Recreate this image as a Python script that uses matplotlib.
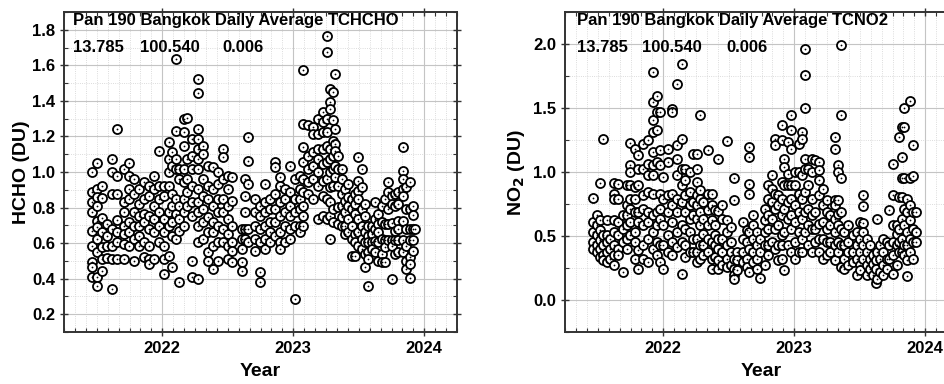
import numpy as np
import matplotlib.pyplot as plt
from matplotlib.ticker import MultipleLocator, FixedLocator

plt.rcParams.update({
    "font.family": ["Liberation Sans", "DejaVu Sans"],
    "font.weight": "bold",
    "axes.labelweight": "bold",
    "font.size": 12,
})

# HCHO columns: decimal-year positions and the daily values read at each
hcho_t = [2021.466, 2021.504, 2021.543, 2021.581, 2021.619, 2021.657, 2021.708, 2021.746,
          2021.784, 2021.823, 2021.861, 2021.899, 2021.937, 2021.975, 2022.013, 2022.052,
          2022.077, 2022.102, 2022.128, 2022.166, 2022.191, 2022.230,
          2022.275, 2022.314, 2022.352, 2022.390, 2022.428, 2022.466, 2022.504, 2022.535,
          2022.606, 2022.632, 2022.657, 2022.708, 2022.746, 2022.784, 2022.823, 2022.861,
          2022.899, 2022.937, 2022.975, 2023.013, 2023.052, 2023.077, 2023.115, 2023.153,
          2023.191, 2023.230,
          2023.255, 2023.280, 2023.306, 2023.318, 2023.344, 2023.369, 2023.395, 2023.420,
          2023.446, 2023.471, 2023.496, 2023.522, 2023.547, 2023.573, 2023.598, 2023.624,
          2023.649, 2023.675, 2023.700, 2023.720, 2023.751, 2023.776, 2023.802, 2023.835,
          2023.860, 2023.891, 2023.916, 2023.929]
hcho_v = [
    [1.0, 0.886, 0.83, 0.773, 0.67, 0.585, 0.495, 0.463, 0.41],
    [1.05, 0.905, 0.858, 0.81, 0.726, 0.69, 0.623, 0.552, 0.407, 0.36],
    [0.923, 0.854, 0.74, 0.66, 0.576, 0.51, 0.445],
    [0.707, 0.64, 0.585, 0.514],
    [1.074, 1.0, 0.876, 0.68, 0.585, 0.51, 0.341],
    [1.243, 0.976, 0.876, 0.73, 0.66, 0.604, 0.51],
    [1.017, 0.83, 0.773, 0.698, 0.651, 0.595, 0.51],
    [1.05, 0.98, 0.905, 0.848, 0.717, 0.66, 0.585],
    [0.961, 0.876, 0.773, 0.698, 0.623, 0.5],
    [0.905, 0.82, 0.754, 0.698, 0.642, 0.585],
    [0.942, 0.848, 0.764, 0.717, 0.604, 0.52],
    [0.923, 0.867, 0.754, 0.68, 0.585, 0.51, 0.48],
    [0.98, 0.905, 0.81, 0.736, 0.66, 0.51],
    [1.12, 0.923, 0.848, 0.773, 0.698, 0.604],
    [0.923, 0.867, 0.736, 0.66, 0.585, 0.51, 0.426],
    [1.168, 1.074, 1.0, 0.923, 0.773, 0.698, 0.529],
    [1.11, 1.036, 0.876, 0.81, 0.717, 0.64, 0.463],
    [1.637, 1.233, 1.074, 1.017, 0.848, 0.764, 0.623],
    [1.017, 0.961, 0.81, 0.736, 0.67, 0.379],
    [1.3, 1.224, 1.149, 1.017, 0.942, 0.848, 0.773, 0.698],
    [1.303, 1.074, 0.961, 0.886, 0.81],
    [1.186, 1.092, 1.017, 0.923, 0.83, 0.754, 0.5, 0.407],
    [1.524, 1.444, 1.243, 1.186, 1.13, 1.074, 1.017, 0.905, 0.83, 0.773, 0.698, 0.604, 0.397],
    [1.149, 1.102, 0.961, 0.867, 0.792, 0.717, 0.623],
    [1.036, 0.923, 0.848, 0.745, 0.66, 0.548, 0.5],
    [1.027, 0.905, 0.81, 0.717, 0.66, 0.585, 0.454],
    [1.0, 0.933, 0.848, 0.773, 0.698, 0.604, 0.5],
    [1.13, 1.083, 0.961, 0.848, 0.773, 0.68, 0.604],
    [0.98, 0.905, 0.81, 0.736, 0.651, 0.585, 0.51],
    [0.974, 0.839, 0.698, 0.604, 0.557, 0.491],
    [0.68, 0.623, 0.567, 0.491, 0.445],
    [0.961, 0.867, 0.773, 0.68, 0.623],
    [1.196, 1.064, 0.933, 0.68, 0.604],
    [0.848, 0.773, 0.698, 0.623, 0.557],
    [0.81, 0.754, 0.68, 0.604, 0.435, 0.383],
    [0.933, 0.83, 0.773, 0.698, 0.623, 0.567],
    [0.848, 0.792, 0.717, 0.66, 0.604],
    [1.055, 1.027, 0.876, 0.792, 0.717, 0.642],
    [0.97, 0.923, 0.83, 0.754, 0.66, 0.604, 0.567],
    [0.905, 0.848, 0.773, 0.698, 0.604],
    [1.036, 0.886, 0.81, 0.754, 0.68, 0.623],
    [0.961, 0.848, 0.773, 0.698, 0.285],
    [0.98, 0.905, 0.848, 0.792, 0.698, 0.66],
    [1.571, 1.271, 1.139, 1.055, 0.961, 0.886, 0.81, 0.754, 0.698],
    [1.262, 1.092, 1.017, 0.942, 0.876],
    [1.252, 1.215, 1.111, 1.036, 0.961, 0.848],
    [1.3, 1.215, 1.13, 1.074, 1.0, 0.923, 0.736],
    [1.337, 1.28, 1.224, 1.13, 1.045, 0.952, 0.867, 0.754],
    [1.765, 1.675, 1.3, 1.224, 1.149, 1.055, 0.961, 0.848, 0.736],
    [1.468, 1.393, 1.355, 1.13, 1.074, 1.0, 0.914, 0.83, 0.754, 0.623],
    [1.449, 1.29, 1.177, 1.092, 1.017, 0.923, 0.792, 0.717],
    [1.553, 1.243, 1.158, 1.12, 1.036, 0.97],
    [1.092, 1.017, 0.923, 0.801, 0.708],
    [1.017, 0.961, 0.876, 0.81, 0.745, 0.698],
    [0.905, 0.839, 0.773, 0.698, 0.651],
    [0.933, 0.858, 0.81, 0.736, 0.66],
    [0.848, 0.792, 0.698, 0.623, 0.529],
    [0.876, 0.82, 0.764, 0.651, 0.604, 0.529],
    [1.083, 0.952, 0.895, 0.848, 0.736, 0.66, 0.585],
    [1.017, 0.914, 0.792, 0.698, 0.623, 0.567],
    [0.82, 0.754, 0.66, 0.604, 0.538, 0.463],
    [0.698, 0.642, 0.604, 0.548, 0.51, 0.36],
    [0.698, 0.651, 0.604, 0.567],
    [0.83, 0.736, 0.68, 0.614, 0.548],
    [0.764, 0.708, 0.66, 0.604, 0.5],
    [0.81, 0.717, 0.623, 0.538, 0.491],
    [0.848, 0.708, 0.617, 0.576, 0.491],
    [0.942, 0.886, 0.792, 0.708, 0.617],
    [0.867, 0.82, 0.711, 0.617, 0.585, 0.397],
    [0.876, 0.81, 0.67, 0.617, 0.538],
    [0.886, 0.82, 0.726, 0.68, 0.617, 0.548],
    [1.143, 1.008, 0.961, 0.905, 0.863, 0.726, 0.617, 0.548],
    [0.914, 0.792, 0.68, 0.585, 0.5, 0.454],
    [0.942, 0.792, 0.68, 0.617, 0.52, 0.482, 0.401],
    [0.81, 0.76, 0.68, 0.617, 0.557],
    [0.68],
]

# NO2 columns
no2_t = [2021.466, 2021.492, 2021.517, 2021.543, 2021.568, 2021.594, 2021.627, 2021.657,
         2021.695, 2021.721, 2021.746, 2021.784, 2021.810, 2021.848, 2021.886, 2021.924,
         2021.950, 2021.975, 2022.001, 2022.039, 2022.064, 2022.102, 2022.141, 2022.166,
         2022.204, 2022.230,
         2022.255, 2022.280, 2022.306, 2022.339, 2022.369, 2022.395, 2022.420, 2022.451,
         2022.484, 2022.514, 2022.540, 2022.560, 2022.611, 2022.636, 2022.657, 2022.687,
         2022.713, 2022.738, 2022.776, 2022.802, 2022.827, 2022.853, 2022.878, 2022.904,
         2022.924, 2022.949, 2022.975, 2023.005, 2023.036, 2023.061, 2023.082, 2023.107,
         2023.133, 2023.158, 2023.189, 2023.222,
         2023.248, 2023.273, 2023.311, 2023.337, 2023.355, 2023.380, 2023.413, 2023.451,
         2023.477, 2023.502, 2023.523, 2023.553, 2023.579, 2023.604, 2023.622, 2023.635,
         2023.655, 2023.680, 2023.706, 2023.724, 2023.757, 2023.782, 2023.800, 2023.820,
         2023.841, 2023.861, 2023.884, 2023.909, 2023.927]
no2_v = [
    [0.797, 0.609, 0.531, 0.453, 0.401],
    [0.661, 0.583, 0.505, 0.427, 0.375],
    [0.917, 0.622, 0.544, 0.466, 0.401, 0.336],
    [1.26, 0.505, 0.427, 0.349, 0.31],
    [0.622, 0.505, 0.453, 0.375, 0.297],
    [0.479, 0.401, 0.323],
    [0.917, 0.831, 0.786, 0.622, 0.531, 0.427, 0.349, 0.271],
    [0.909, 0.792, 0.609, 0.505, 0.401, 0.349],
    [0.661, 0.557, 0.453, 0.219],
    [0.896, 0.74, 0.661, 0.583, 0.479, 0.401],
    [1.229, 1.052, 1.0, 0.896, 0.792, 0.714, 0.609, 0.505],
    [1.182, 0.883, 0.792, 0.688, 0.531, 0.453, 0.323],
    [1.13, 1.026, 0.896, 0.688, 0.609, 0.388, 0.245],
    [1.221, 1.026, 0.818, 0.714, 0.583, 0.427, 0.323],
    [1.247, 1.065, 0.974, 0.844, 0.688, 0.609, 0.479, 0.297],
    [1.781, 1.547, 1.404, 1.313, 1.156, 1.052, 0.974, 0.831, 0.661, 0.531, 0.401],
    [1.594, 1.469, 1.325, 1.078, 0.688, 0.583, 0.453, 0.349],
    [1.469, 1.169, 1.052, 0.831, 0.714, 0.635, 0.427, 0.297],
    [0.961, 0.792, 0.583, 0.427, 0.245],
    [1.182, 1.078, 0.818, 0.688, 0.505, 0.375],
    [1.495, 1.469, 0.831, 0.74, 0.609, 0.453, 0.349],
    [1.69, 1.208, 1.104, 0.974, 0.792, 0.688, 0.531, 0.414],
    [1.846, 1.26, 1.026, 0.896, 0.766, 0.583, 0.453, 0.206],
    [1.026, 0.935, 0.818, 0.688, 0.557, 0.427, 0.336],
    [1.0, 0.844, 0.74, 0.635, 0.531, 0.375],
    [1.143, 0.766, 0.661, 0.479, 0.375],
    [1.143, 1.026, 0.922, 0.818, 0.74, 0.635, 0.479, 0.375, 0.297],
    [1.443, 0.857, 0.792, 0.688, 0.583, 0.427, 0.323],
    [0.766, 0.635, 0.518, 0.427, 0.349],
    [1.169, 0.831, 0.7, 0.583, 0.479, 0.375],
    [0.831, 0.74, 0.622, 0.453, 0.323, 0.245],
    [0.7, 0.583, 0.505, 0.427, 0.336],
    [1.104, 0.693, 0.479, 0.401, 0.31, 0.245],
    [0.74, 0.635, 0.479, 0.375, 0.271],
    [1.24, 0.622, 0.531, 0.427, 0.323, 0.258],
    [0.57, 0.453, 0.375, 0.271],
    [0.956, 0.779, 0.323, 0.245, 0.193, 0.167],
    [0.375, 0.31, 0.232],
    [0.609, 0.479, 0.375, 0.297],
    [0.544, 0.453, 0.323, 0.258],
    [1.195, 1.117, 0.909, 0.831, 0.531, 0.401, 0.219],
    [0.661, 0.583, 0.479, 0.375, 0.297],
    [0.531, 0.427, 0.323, 0.245],
    [0.479, 0.375, 0.174],
    [0.714, 0.622, 0.531, 0.427, 0.271],
    [0.896, 0.792, 0.661, 0.557, 0.427, 0.349],
    [0.974, 0.87, 0.766, 0.635, 0.453],
    [1.26, 1.208, 0.831, 0.714, 0.557, 0.401],
    [0.818, 0.74, 0.583, 0.427, 0.31],
    [1.365, 1.247, 0.922, 0.792, 0.661, 0.505, 0.427, 0.323],
    [1.104, 1.039, 0.896, 0.714, 0.531, 0.232],
    [1.234, 0.987, 0.896, 0.766, 0.635, 0.427],
    [1.443, 1.325, 1.182, 0.896, 0.792, 0.661, 0.557, 0.375],
    [1.0, 0.896, 0.74, 0.609, 0.453, 0.323],
    [1.221, 1.0, 0.831, 0.688, 0.531, 0.375],
    [1.313, 1.26, 0.974, 0.792, 0.635, 0.479, 0.375],
    [1.964, 1.755, 1.5, 1.104, 1.026, 0.844, 0.688, 0.531],
    [1.026, 0.896, 0.714, 0.583, 0.427],
    [1.104, 1.0, 0.792, 0.661, 0.557, 0.375],
    [1.091, 0.688, 0.557, 0.453],
    [1.078, 1.013, 0.935, 0.818, 0.596, 0.479, 0.375],
    [0.87, 0.74, 0.609, 0.479, 0.323],
    [0.779, 0.688, 0.557, 0.453, 0.349],
    [0.661, 0.583, 0.453, 0.375],
    [1.273, 1.182, 0.779, 0.74, 0.635, 0.531, 0.427, 0.31],
    [1.052, 1.0, 0.779, 0.674, 0.583, 0.453, 0.375],
    [1.995, 1.448, 0.956, 0.688, 0.557, 0.427, 0.258],
    [0.531, 0.427, 0.323, 0.245],
    [0.583, 0.453, 0.375, 0.271],
    [0.505, 0.375, 0.297],
    [0.531, 0.427, 0.323, 0.193],
    [0.609, 0.479, 0.375, 0.271, 0.232],
    [0.818, 0.734, 0.604, 0.531, 0.427, 0.323],
    [0.479, 0.375, 0.271, 0.193],
    [0.427, 0.323, 0.245],
    [0.349, 0.284, 0.193],
    [0.31, 0.245, 0.135],
    [0.63, 0.375, 0.167],
    [0.427, 0.323, 0.219],
    [0.479, 0.375, 0.271, 0.193],
    [0.453, 0.323, 0.245],
    [0.7, 0.427, 0.323],
    [1.065, 0.818, 0.583, 0.453, 0.349, 0.206],
    [0.588, 0.518, 0.427, 0.271],
    [1.273, 0.805, 0.557, 0.453, 0.375],
    [1.352, 1.117, 0.953, 0.805, 0.635, 0.479, 0.375],
    [1.5, 1.352, 0.953, 0.714, 0.583, 0.427, 0.349],
    [0.792, 0.688, 0.531, 0.427, 0.31, 0.188],
    [1.552, 0.953, 0.74, 0.622, 0.479, 0.375],
    [1.208, 0.966, 0.688, 0.557, 0.453, 0.323],
    [0.688, 0.531, 0.453],
]

title_hcho = "Pan 190 Bangkok Daily Average TCHCHO"
title_no2 = "Pan 190 Bangkok Daily Average TCNO2"
site_info = ["13.785", "100.540", "0.006"]
year_ticks = [2022, 2023, 2024]


def flatten(ts, vs):
    x, y = [], []
    for t, col in zip(ts, vs):
        for v in col:
            x.append(t)
            y.append(v)
    return np.array(x), np.array(y)


def style_axes(ax):
    ax.set_xlim(2021.25, 2024.25)
    ax.xaxis.set_major_locator(FixedLocator(year_ticks))
    ax.set_xticklabels([str(y) for y in year_ticks])
    ax.xaxis.set_minor_locator(MultipleLocator(1 / 12))
    ax.grid(which='major', color='#c4c4c4', lw=0.8)
    ax.grid(which='minor', color='#d0d0d0', lw=0.6, ls=':')
    ax.set_axisbelow(True)
    ax.tick_params(which='both', top=True, right=True, labelsize=12, color='#333333')
    ax.tick_params(which='major', direction='inout', length=6, width=1)
    ax.tick_params(which='minor', direction='in', length=3, width=0.8)
    for sp in ax.spines.values():
        sp.set_linewidth(1.4)
        sp.set_color('#333333')
    ax.set_xlabel('Year', fontsize=14, labelpad=5)


def draw_points(ax, x, y):
    ax.plot(x, y, 'o', mfc='white', mec='black', ms=6.5, mew=1.3, zorder=3)
    ax.plot(x, y, 'o', color='black', ms=1.3, mew=0, zorder=4)


def add_header(ax, title, xs):
    ax.text(xs[0], 0.972, title, transform=ax.transAxes, ha='left', va='center',
            fontsize=12, fontweight='bold', zorder=5)
    for xx, s in zip(xs, site_info):
        ax.text(xx, 0.888, s, transform=ax.transAxes, ha='left', va='center',
                fontsize=12, fontweight='bold', zorder=5)


fig = plt.figure(figsize=(9.45, 3.84), dpi=100)

ax1 = fig.add_axes([64 / 945, 52 / 384, 393 / 945, 320 / 384])
hx, hy = flatten(hcho_t, hcho_v)
draw_points(ax1, hx, hy)
style_axes(ax1)
ax1.set_ylim(0.1, 1.9)
ax1.yaxis.set_major_locator(MultipleLocator(0.2))
ax1.yaxis.set_minor_locator(MultipleLocator(0.1))
ax1.yaxis.set_major_formatter(plt.FuncFormatter(lambda v, p: f"{v:.1f}"))
ax1.set_ylabel('HCHO (DU)', fontsize=14, labelpad=1)
add_header(ax1, title_hcho, [0.023, 0.193, 0.402])

ax2 = fig.add_axes([565 / 945, 52 / 384, 393 / 945, 320 / 384])
nx, ny = flatten(no2_t, no2_v)
draw_points(ax2, nx, ny)
style_axes(ax2)
ax2.set_ylim(-0.25, 2.25)
ax2.yaxis.set_major_locator(MultipleLocator(0.5))
ax2.yaxis.set_minor_locator(MultipleLocator(0.25))
ax2.yaxis.set_major_formatter(plt.FuncFormatter(lambda v, p: f"{v:.1f}"))
ax2.set_ylabel('NO$_2$ (DU)', fontsize=14, labelpad=4)
add_header(ax2, title_no2, [0.03, 0.196, 0.41])

fig.savefig('out.png', dpi=100)
